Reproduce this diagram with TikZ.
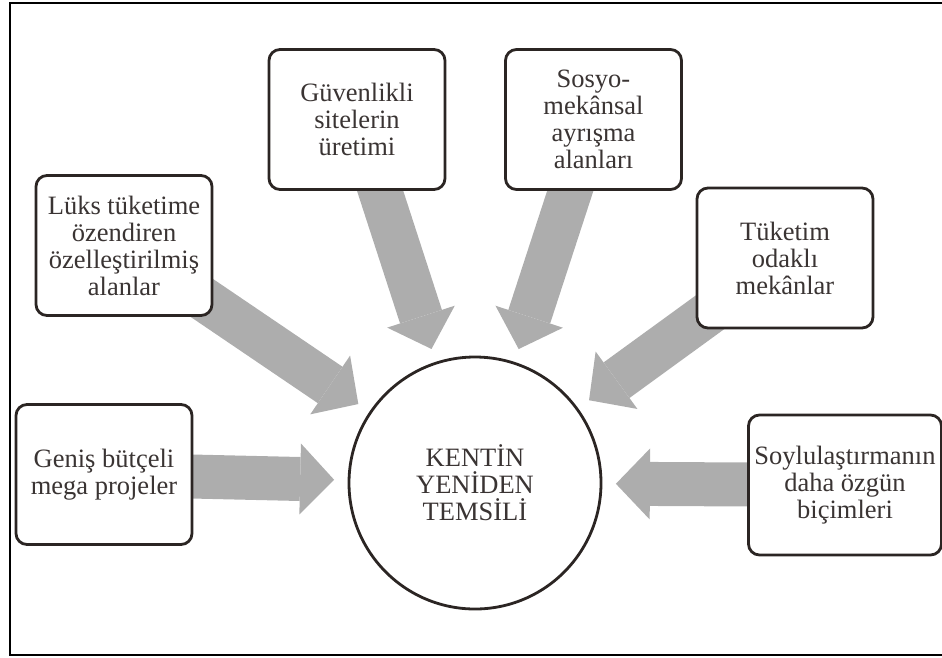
\documentclass[tikz,border=0pt]{standalone}
\usepackage{fontspec}
\setmainfont{Liberation Serif}
\usetikzlibrary{arrows.meta,backgrounds}
\definecolor{framec}{HTML}{2B2523}
\definecolor{textc}{HTML}{3A3433}
\definecolor{arrowc}{HTML}{ADADAD}

\begin{document}
\begin{tikzpicture}[x=1pt,y=-1pt,
  kutu/.style={rectangle,draw=framec,fill=white,line width=2.8pt,rounded corners=11pt,
    minimum width=176pt,minimum height=140pt,align=center,text=textc,
    font=\fontsize{26.5}{27}\selectfont},
  merkez/.style={circle,draw=framec,fill=white,line width=2.8pt,minimum size=252pt,
    align=center,text=textc,font=\fontsize{26.5}{27}\selectfont},
  okblok/.style={draw=arrowc,line width=44pt,shorten <=-25pt,shorten >=13.5pt,
    -{Triangle[width=71pt,length=34pt,line width=0pt]}}]
	\useasboundingbox (0,0) rectangle (942,657);
	\clip (0,0) rectangle (942,657);
	\draw[line width=2pt] (10,3) rectangle (970,655);
	\node[merkez] (kent) at (475,483) {KENTİN\\YENİDEN\\TEMSİLİ};
	\node[kutu] (genis) at (104,474.5) {Geniş bütçeli\\mega projeler};
	\node[kutu] (luks) at (124,245.5) {Lüks tüketime\\özendiren\\özelleştirilmiş\\alanlar};
	\node[kutu] (guven) at (357,119.5) {Güvenlikli\\sitelerin\\üretimi};
	\node[kutu] (sosyo) at (593.5,119.5) {Sosyo-\\mekânsal\\ayrışma\\alanları};
	\node[kutu] (tuketim) at (785,258) {Tüketim\\odaklı\\mekânlar};
	\node[kutu,minimum width=193pt] (soylu) at (845,485) {Soylulaştırmanın\\daha özgün\\biçimleri};
	\begin{scope}[on background layer]
	\foreach \k in {genis,luks,guven,sosyo,tuketim,soylu}
		\draw[okblok] (\k) -- (kent);
	\end{scope}
\end{tikzpicture}
\end{document}
